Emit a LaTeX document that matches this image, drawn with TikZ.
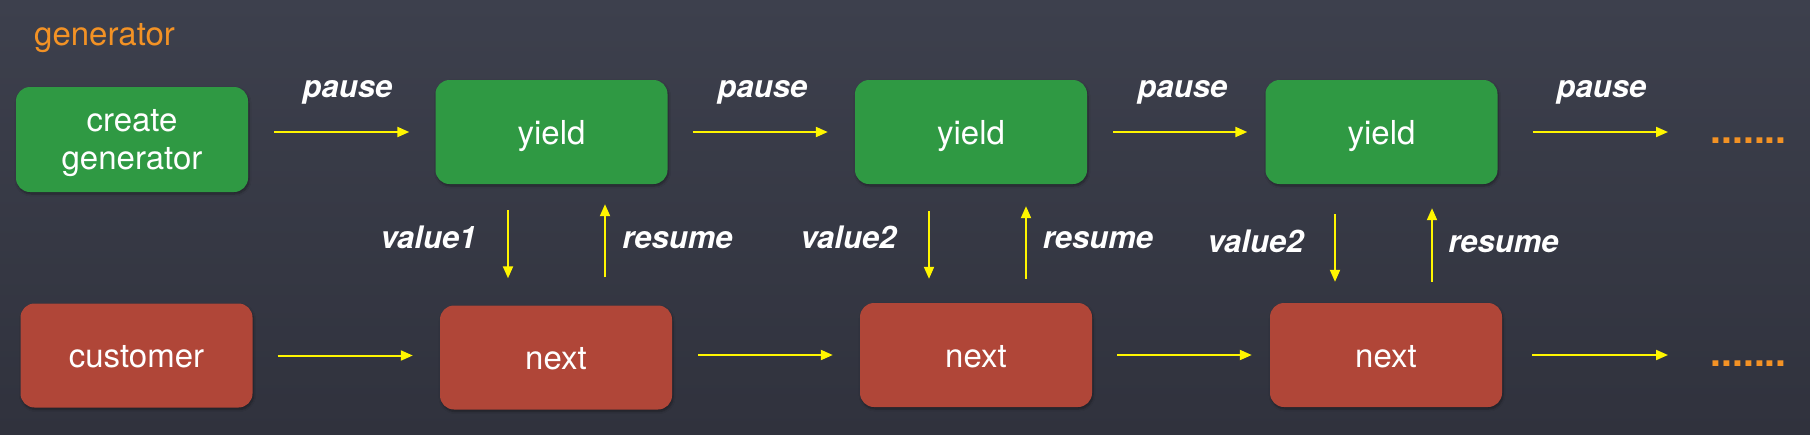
\documentclass[tikz,border=0pt]{standalone}
\usepackage{fontspec}
\setmainfont{TeX Gyre Heros}
\usetikzlibrary{arrows.meta,calc,shadows.blur}
\definecolor{bgtop}{RGB}{61,64,77}
\definecolor{bgbot}{RGB}{48,50,61}
\definecolor{boxgreen}{RGB}{47,153,67}
\definecolor{boxred}{RGB}{176,70,56}
\definecolor{orng}{RGB}{243,146,37}
\definecolor{yel}{RGB}{255,246,0}
\newcommand{\lowerline}[1]{\raisebox{-4pt}[\height][\depth]{#1}}
\begin{document}
\begin{tikzpicture}[x=1pt,y=-1pt,
  box/.style={rounded corners=14pt, minimum width=232pt, minimum height=104pt, inner sep=0pt,
    text=white, font=\fontsize{33}{38}\selectfont, align=center,
    blur shadow={shadow xshift=1pt, shadow yshift=-2pt, shadow opacity=35, shadow blur steps=6}},
  oneline/.style={text height=24pt, text depth=0pt},
  gbox/.style={box, fill=boxgreen},
  rbox/.style={box, fill=boxred},
  arr/.style={draw=yel, line width=2pt, -{Triangle[length=12pt,width=10pt]}},
  lab/.style={text=white, font=\fontsize{31}{31}\selectfont\bfseries\itshape, inner sep=0pt, anchor=base},
  dotstxt/.style={text=orng, font=\fontsize{39}{39}\selectfont\bfseries, inner sep=0pt, anchor=base west},
]
\useasboundingbox (0,0) rectangle (1810,434);
\shade[top color=bgtop, bottom color=bgbot] (0,0) rectangle (1810,434);

\node[text=orng, font=\fontsize{33}{33}\selectfont, inner sep=0pt, anchor=base west] (title) at (34,45) {generator};

% boxes
\node[gbox, minimum height=105pt] (cg) at (132,139.5) {\lowerline{create}\\\lowerline{generator}};
\node[gbox, oneline] (y1) at (551.5,132) {yield};
\node[gbox, oneline] (y2) at (971,132) {yield};
\node[gbox, oneline] (y3) at (1381.5,132) {yield};
\node[rbox, oneline] (cu) at (136.5,355.5) {customer};
\node[rbox, oneline] (n1) at (556,357.5) {next};
\node[rbox, oneline] (n2) at (976,355) {next};
\node[rbox, oneline] (n3) at (1386,355) {next};

% top horizontal arrows
\draw[arr, shorten <=26pt, shorten >=26pt] (cg.east |- y1.west) -- (y1.west);
\draw[arr, shorten <=25pt, shorten >=27pt] (y1.east) -- (y2.west);
\draw[arr, shorten <=26pt, shorten >=18pt] (y2.east) -- (y3.west);
\coordinate (e1) at (1668,132);
\draw[arr, shorten <=35pt] (y3.east) -- (e1);

% bottom horizontal arrows
\draw[arr, shorten <=25pt, shorten >=27pt] (cu.east) -- (cu.east -| n1.west);
\draw[arr, shorten <=26pt, shorten >=27pt] (n1.east |- n2.west) -- (n2.west);
\draw[arr, shorten <=25pt, shorten >=18pt] (n2.east) -- (n3.west);
\coordinate (e2) at (1668,355);
\draw[arr, shorten <=30pt] (n3.east) -- (e2);

% vertical arrows
\coordinate (a1) at ($(y1.south)+(-43.5,0)$);
\coordinate (b1) at ($(n1.north)+(49,0)$);
\coordinate (a2) at ($(y2.south)+(-42,0)$);
\coordinate (b2) at ($(n2.north)+(50,0)$);
\coordinate (a3) at ($(y3.south)+(-46.5,0)$);
\coordinate (b3) at ($(n3.north)+(46,0)$);
\draw[arr, shorten <=26pt, shorten >=27pt] (a1) -- (a1 |- n1.north);
\draw[arr, shorten <=28pt, shorten >=20pt] (b1) -- (b1 |- y1.south);
\draw[arr, shorten <=27pt, shorten >=24pt] (a2) -- (a2 |- n2.north);
\draw[arr, shorten <=24pt, shorten >=22pt] (b2) -- (b2 |- y2.south);
\draw[arr, shorten <=30pt, shorten >=21pt] (a3) -- (a3 |- n3.north);
\draw[arr, shorten <=21pt, shorten >=24pt] (b3) -- (b3 |- y3.south);

% labels
\node[lab] (p1) at (347.5,97) {pause};
\node[lab] (p2) at (762.5,97) {pause};
\node[lab] (p3) at (1182.5,97) {pause};
\node[lab] (p4) at (1601.5,97) {pause};
\node[lab] (v1) at (428.5,248) {value1};
\node[lab] (r1) at (677.5,248) {resume};
\node[lab] (v2) at (848.5,248) {value2};
\node[lab] (r2) at (1098,248) {resume};
\node[lab] (v3) at (1255.5,252) {value2};
\node[lab] (r3) at (1503.5,252) {resume};

% continuation dots
\node[dotstxt] (d1) at (1710.5,143.5) {.......};
\node[dotstxt] (d2) at (1710.5,366.5) {.......};
\end{tikzpicture}
\end{document}
